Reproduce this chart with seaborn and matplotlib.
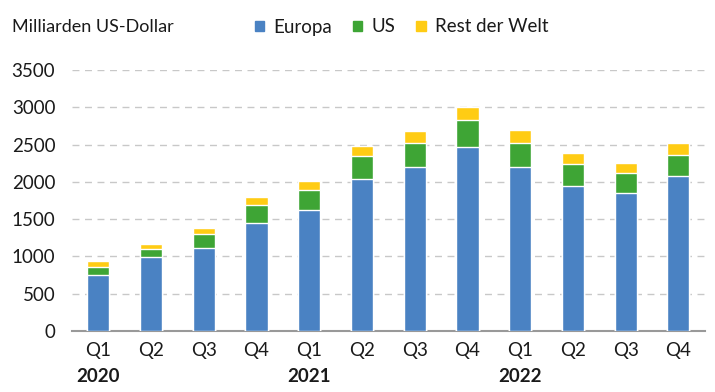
import numpy as np
import pandas as pd
import matplotlib
matplotlib.use("Agg")
import matplotlib.pyplot as plt
import seaborn as sns
from matplotlib.patches import Patch

# Werte in Milliarden US-Dollar (aus dem Bild geschaetzt)
quartale = ["Q1", "Q2", "Q3", "Q4"] * 3
jahre = ["2020", "2021", "2022"]
europa = [750, 990, 1115, 1445, 1620, 2040, 2195, 2465, 2195, 1945, 1850, 2080]
us = [108, 110, 185, 245, 270, 305, 325, 365, 325, 295, 270, 280]
rest = [80, 65, 80, 105, 120, 135, 160, 175, 175, 150, 135, 160]

labels = [f"{q}\n{j}" for j in jahre for q in ["Q1", "Q2", "Q3", "Q4"]]
df = pd.DataFrame({"periode": labels, "Europa": europa, "US": us, "Rest der Welt": rest})
df["stack_us"] = df["Europa"] + df["US"]
df["stack_rest"] = df["stack_us"] + df["Rest der Welt"]

sns.set_style("white")
plt.rcParams["font.family"] = ["Lato", "DejaVu Sans"]

col_eu = "#4A82C3"
col_us = "#3EA535"
col_rw = "#FFCC14"
txt = "#1a1a1a"

fig = plt.figure(figsize=(7.15, 3.92), dpi=100)
ax = fig.add_axes([0.1007, 0.1556, 0.885, 0.6658])

w = 0.42
sns.barplot(data=df, x="periode", y="stack_rest", color=col_rw, width=w, saturation=1, ax=ax, zorder=3)
sns.barplot(data=df, x="periode", y="stack_us", color=col_us, width=w, saturation=1, ax=ax, zorder=3)
sns.barplot(data=df, x="periode", y="Europa", color=col_eu, width=w, saturation=1, ax=ax, zorder=3)

ax.set_ylim(0, 3500)
ax.set_xlim(-0.5, 11.5)
ax.set_yticks(np.arange(0, 3501, 500))
ax.yaxis.grid(True, color="#c8c8c8", linestyle=(0, (5, 4)), linewidth=1, zorder=0)
ax.set_axisbelow(True)
ax.set_xlabel("")
ax.set_ylabel("")

for s in ["top", "right", "left"]:
    ax.spines[s].set_visible(False)
ax.spines["bottom"].set_color("#999999")
ax.spines["bottom"].set_linewidth(1.5)

ax.set_xticks(range(12))
ax.set_xticklabels(quartale)
ax.tick_params(axis="both", length=0, labelsize=13.5, colors=txt)
ax.tick_params(axis="x", pad=8)
ax.tick_params(axis="y", pad=12)

# Jahresbeschriftungen unter Q1
for i, j in enumerate(jahre):
    ax.text(i * 4, -0.175, j, transform=ax.get_xaxis_transform(), ha="center", va="center",
            fontsize=13.5, fontweight="bold", color=txt)

fig.text(12 / 715, 1 - 27 / 392, "Milliarden US-Dollar", fontsize=13, va="center", ha="left", color=txt)

handles = [Patch(color=col_eu, label="Europa"), Patch(color=col_us, label="US"),
           Patch(color=col_rw, label="Rest der Welt")]
fig.legend(handles=handles, loc="center left", bbox_to_anchor=(238 / 715, 1 - 27 / 392), ncol=3,
           frameon=False, fontsize=13.5, handlelength=0.5, handleheight=0.5, handletextpad=0.5,
           columnspacing=1.1, labelcolor=txt)

fig.savefig("out.png", dpi=100)
